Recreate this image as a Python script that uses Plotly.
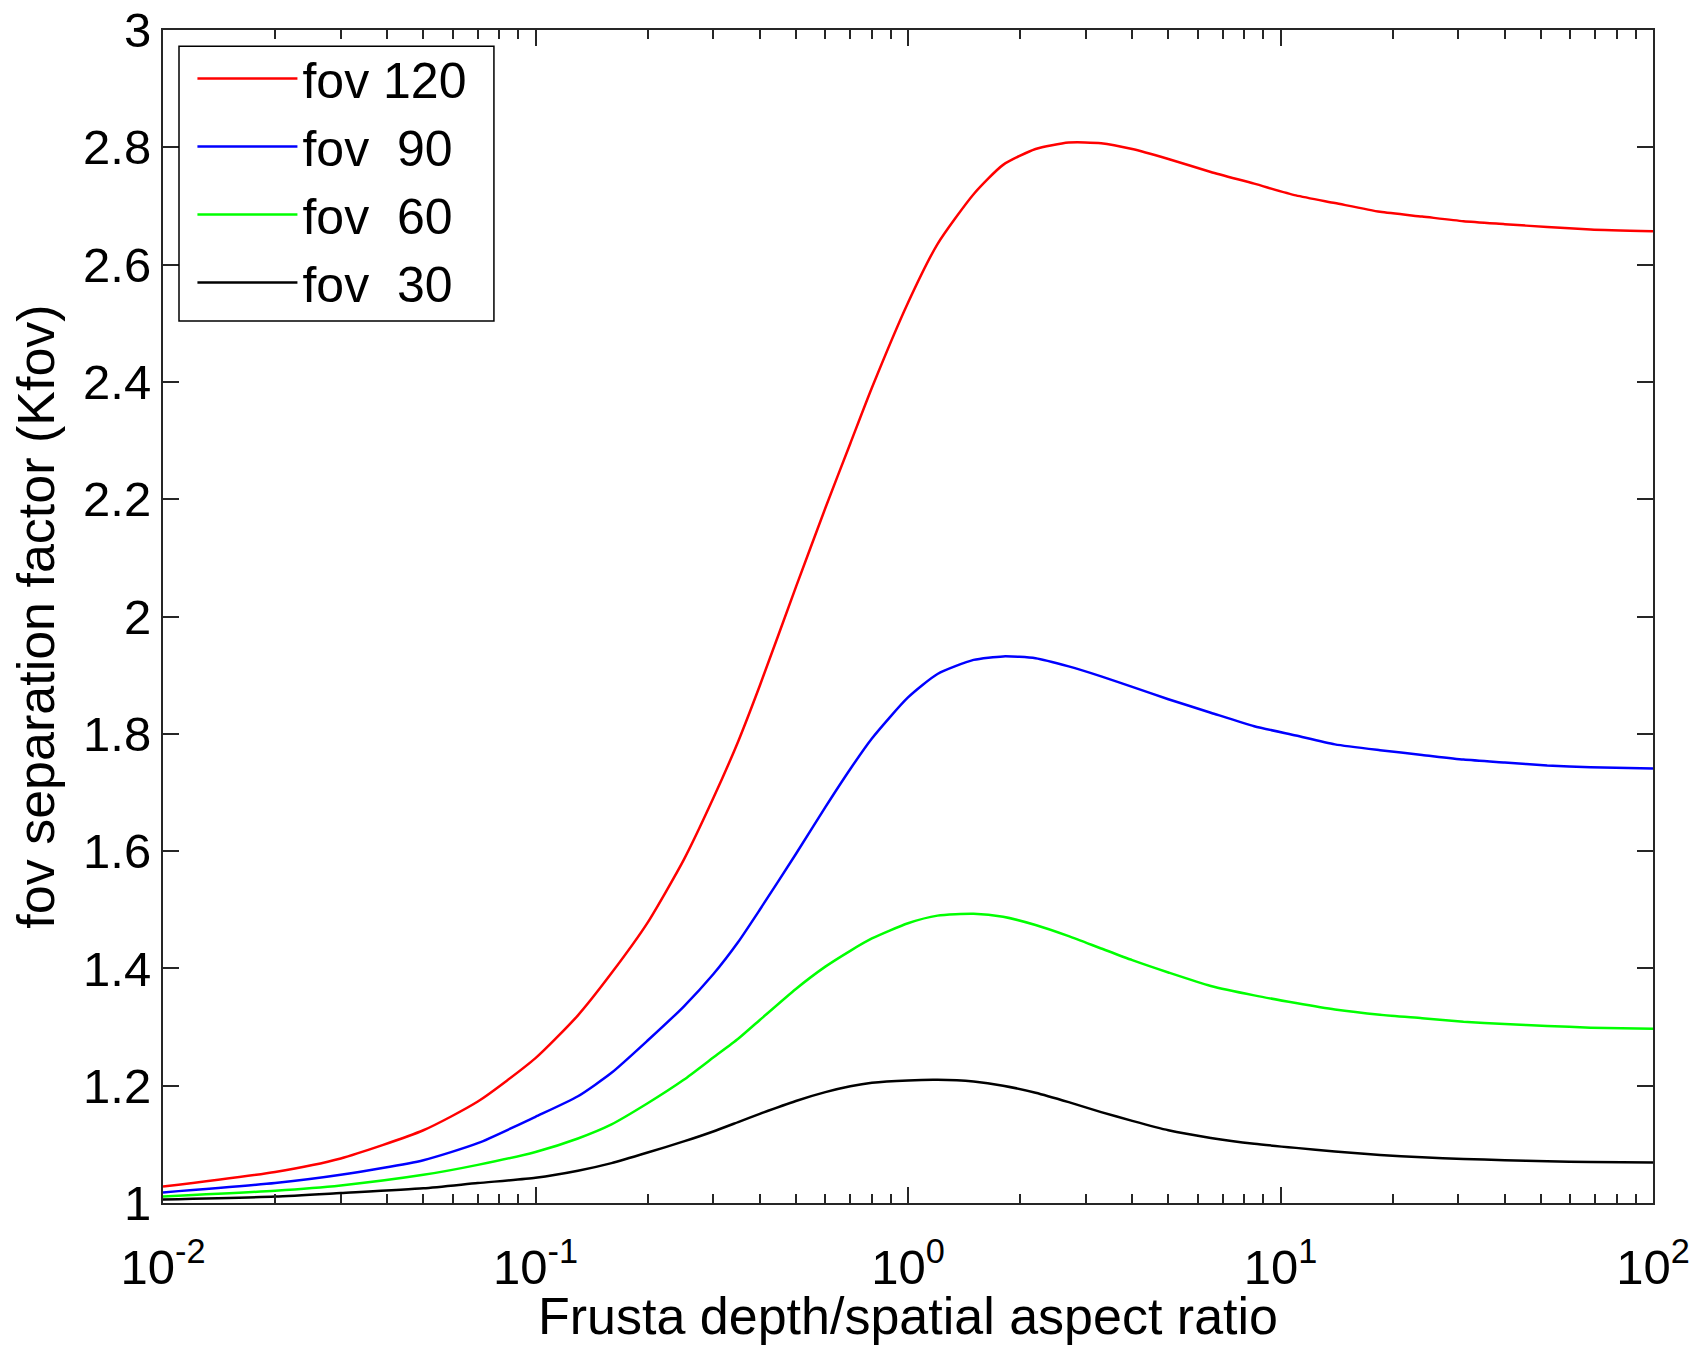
import plotly.graph_objects as go

x_ratio = [0.01, 0.02, 0.03, 0.05, 0.07, 0.1, 0.13, 0.16, 0.2, 0.25, 0.3, 0.35, 0.4, 0.5, 0.6, 0.7, 0.8,
           1.0, 1.2, 1.5, 1.8, 2.2, 2.7, 3.3, 4.0, 5.0, 6.5, 8.5, 11, 14, 18.5, 24, 31, 40, 52, 68, 100]

k_fov120 = [1.028, 1.053, 1.076, 1.124, 1.173, 1.247, 1.320, 1.392, 1.478, 1.585, 1.690, 1.787, 1.882, 2.050,
            2.185, 2.295, 2.390, 2.535, 2.635, 2.720, 2.770, 2.797, 2.808, 2.807, 2.797, 2.780, 2.758, 2.738,
            2.718, 2.705, 2.690, 2.682, 2.674, 2.669, 2.664, 2.660, 2.657]
k_fov90 = [1.018, 1.034, 1.048, 1.073, 1.102, 1.147, 1.182, 1.222, 1.277, 1.335, 1.390, 1.445, 1.500, 1.595,
           1.675, 1.740, 1.792, 1.862, 1.902, 1.926, 1.932, 1.929, 1.915, 1.898, 1.880, 1.859, 1.836, 1.813,
           1.797, 1.782, 1.772, 1.764, 1.756, 1.751, 1.746, 1.743, 1.741]
k_fov60 = [1.011, 1.021, 1.030, 1.048, 1.065, 1.087, 1.110, 1.134, 1.170, 1.210, 1.248, 1.280, 1.312, 1.365,
           1.403, 1.430, 1.451, 1.477, 1.490, 1.493, 1.488, 1.474, 1.455, 1.434, 1.414, 1.393, 1.370, 1.354,
           1.341, 1.330, 1.321, 1.315, 1.309, 1.305, 1.302, 1.299, 1.297]
k_fov30 = [1.006, 1.011, 1.017, 1.025, 1.034, 1.043, 1.055, 1.068, 1.086, 1.105, 1.122, 1.138, 1.152, 1.174,
           1.189, 1.199, 1.205, 1.209, 1.210, 1.207, 1.200, 1.188, 1.172, 1.155, 1.140, 1.124, 1.111, 1.101,
           1.094, 1.088, 1.082, 1.078, 1.075, 1.073, 1.071, 1.070, 1.069]

series_names = ["fov 120", "fov\u00a0\u00a090", "fov\u00a0\u00a060", "fov\u00a0\u00a030"]
series_values = [k_fov120, k_fov90, k_fov60, k_fov30]
series_colors = ["#FF0000", "#0000FF", "#00FF00", "#000000"]

x_tickvals = [0.01, 0.1, 1, 10, 100]
x_ticktext = ["10<sup>-2</sup>", "10<sup>-1</sup>", "10<sup>0</sup>", "10<sup>1</sup>", "10<sup>2</sup>"]

FONT = "Liberation Sans, Arial, Helvetica, sans-serif"
AXIS_COLOR = "#262626"

fig = go.Figure()
for name, vals, col in zip(series_names, series_values, series_colors):
    fig.add_trace(go.Scatter(x=x_ratio, y=vals, mode="lines", name=name,
                             line=dict(color=col, width=2.5, shape="spline", smoothing=0.6)))

# legend frame (decoration)
fig.add_shape(type="rect", xref="paper", yref="paper", x0=0.01074, x1=0.2221, y0=0.7519, y1=0.9862,
              line=dict(color="black", width=1.5), fillcolor="white", layer="above")

fig.update_layout(
    width=1696, height=1345,
    margin=dict(l=163, r=43, t=30, b=142, autoexpand=False),
    paper_bgcolor="white", plot_bgcolor="white",
    font=dict(family=FONT, size=49, color="black"),
    showlegend=True,
    legend=dict(x=0.0117, y=0.9919, xanchor="left", yanchor="top",
                bgcolor="rgba(0,0,0,0)", borderwidth=0,
                font=dict(family=FONT, size=50, color="black"),
                itemwidth=100, tracegroupgap=0, indentation=12),
)

fig.update_xaxes(
    type="log", range=[-2, 2],
    tickvals=x_tickvals, ticktext=x_ticktext,
    ticks="inside", ticklen=16, tickwidth=1.5, tickcolor=AXIS_COLOR,
    minor=dict(ticks="inside", ticklen=9, tickwidth=1.5, tickcolor=AXIS_COLOR, dtick="D1", showgrid=False),
    showline=True, linecolor=AXIS_COLOR, linewidth=2, mirror="allticks",
    showgrid=False, zeroline=False,
    ticklabelstandoff=20,
    tickfont=dict(family=FONT, size=49, color="black"),
    title=dict(text="Frusta depth/spatial aspect ratio", font=dict(family=FONT, size=52, color="black"), standoff=0),
)
fig.update_yaxes(
    range=[1, 3], dtick=0.2, tick0=1,
    ticks="inside", ticklen=16, tickwidth=1.5, tickcolor=AXIS_COLOR,
    showline=True, linecolor=AXIS_COLOR, linewidth=2, mirror="allticks",
    showgrid=False, zeroline=False,
    tickfont=dict(family=FONT, size=49, color="black"),
    title=dict(text="fov separation factor (Kfov)", font=dict(family=FONT, size=52, color="black"), standoff=12),
)

fig.write_html("out.html")
